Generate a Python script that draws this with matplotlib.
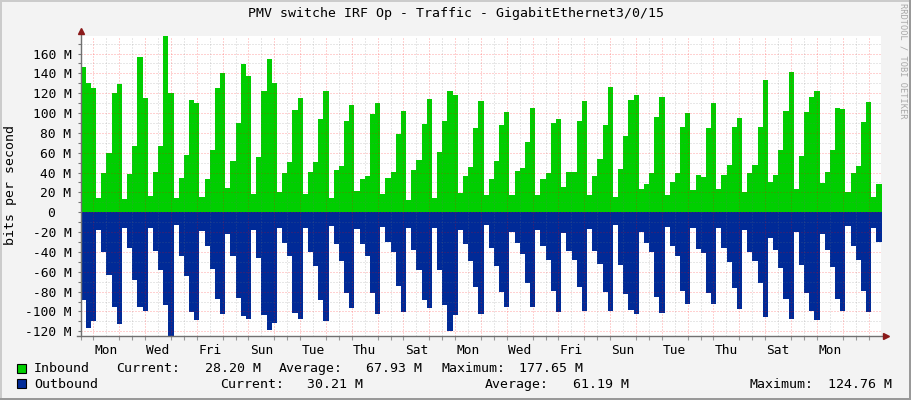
import numpy as np
import matplotlib
matplotlib.use("Agg")
import matplotlib.pyplot as plt
from matplotlib.patches import Rectangle
from matplotlib.transforms import ScaledTranslation

# traffic in Mbit/s, one value per ~4.8h step
inbound = [146, 130, 125,
           14, 40, 60, 120, 129,
           13, 39, 67, 156, 115,
           16, 41, 67, 177.65, 120,
           14, 35, 58, 113, 110,
           15, 34, 63, 125, 140,
           24, 52, 90, 149, 137,
           18, 56, 122, 154, 130,
           20, 40, 51, 103, 115,
           18, 41, 51, 94, 122,
           14, 43, 47, 92, 108,
           21, 34, 37, 99, 110,
           18, 35, 41, 79, 102,
           12, 43, 53, 89, 114,
           14, 61, 92, 122, 118,
           19, 37, 46, 85, 112,
           17, 34, 52, 88, 101,
           17, 42, 45, 71, 105,
           17, 33, 40, 90, 94,
           25, 41, 41, 92, 112,
           17, 37, 54, 88, 126,
           15, 44, 77, 113, 118,
           23, 28, 40, 96, 116,
           17, 30, 40, 86, 100,
           22, 38, 36, 85, 110,
           23, 38, 48, 86, 95,
           20, 40, 48, 86, 133,
           30, 38, 63, 102, 141,
           23, 57, 101, 116, 122,
           29, 41, 63, 105, 104,
           20, 40, 47, 91, 111,
           15, 28.2]

outbound = [88, 117, 110,
            17.5, 40, 63, 96, 113,
            15.5, 36, 68, 96, 100,
            15.5, 39, 58, 94, 124.76,
            13, 44, 64, 101, 109,
            18.5, 34, 57, 87, 103,
            22, 44, 86, 105, 108,
            18, 46, 104, 119, 112,
            15.5, 31, 44, 102, 108,
            15.5, 40, 54, 88, 110,
            13.4, 32, 49, 81, 97,
            16.5, 32, 44, 81, 103,
            14.5, 30, 40, 74, 101,
            15.5, 38, 58, 88, 97,
            15.5, 58, 94, 120, 104,
            17.5, 32, 49, 75, 103,
            12.4, 36, 54, 80, 96,
            19.5, 31, 42, 71, 96,
            17.5, 34, 48, 79, 101,
            20.5, 39, 48, 75, 100,
            16.5, 39, 52, 80, 100,
            12.4, 53, 82, 99, 103,
            20, 31, 40, 85, 102,
            14.5, 34, 44, 79, 92,
            15.5, 37, 41, 81, 93,
            15.5, 36, 50, 76, 98,
            17.5, 40, 49, 71, 106,
            25.5, 38, 56, 87, 108,
            20, 53, 81, 100, 109,
            21.5, 38, 55, 87, 100,
            13.4, 34, 48, 79, 101,
            15.5, 30.21]

day_labels = ["Mon", "Wed", "Fri", "Sun", "Tue", "Thu", "Sat"]
title = "PMV switche IRF Op - Traffic - GigabitEthernet3/0/15"
legend_rows = [
    ("Inbound", "#00CF00", [("Inbound", 34), ("Current:", 116), ("28.20 M", 205), ("Average:", 279),
                            ("67.93 M", 366), ("Maximum:", 441), ("177.65 M", 519)]),
    ("Outbound", "#002A97", [("Outbound", 34), ("Current:", 220), ("30.21 M", 307), ("Average:", 485),
                             ("61.19 M", 573), ("Maximum:", 750), ("124.76 M", 828)]),
]

mono = "DejaVu Sans Mono"
plt.rcParams["font.family"] = mono

W, H = 911, 400
fig = plt.figure(figsize=(W / 100, H / 100), dpi=100, facecolor="#F3F3F3")
ax = fig.add_axes([80.5 / W, 64 / H, 800.5 / W, 300 / H])
ax.set_facecolor("white")

# time in hours from first Monday 00:00
step = 4.8
t0 = -11.9
edges = t0 + step * np.arange(len(inbound) + 1)
inb = np.array(inbound, dtype=float)
outb = np.array(outbound, dtype=float)

ax.fill_between(edges, np.append(inb, inb[-1]), 0, step="post", color="#00CF00", lw=0, zorder=2)
ax.fill_between(edges, -np.append(outb, outb[-1]), 0, step="post", color="#002A97", lw=0, zorder=2)

ax.set_xlim(-11.92, 731.6)
ax.set_ylim(-124.76, 177.65)

# grid, rrdtool style dotted
dots = (0, (1, 2))
red = (1, 0, 0, 0.36)
grey = (0.45, 0.45, 0.45, 0.33)
for y in np.arange(-120, 180, 10):
    c = red if y % 20 == 0 else grey
    ax.axhline(y, color=c, lw=0.72, ls=dots, zorder=3)
for x in np.arange(-12, 732, 12):
    c = red if x % 24 == 0 else grey
    ax.axvline(x, color=c, lw=0.72, ls=dots, zorder=3)

for s in ax.spines.values():
    s.set_visible(False)

# y ticks
yt = np.arange(-120, 161, 20)
ax.set_yticks(yt)
ax.set_yticklabels([f"{v} M" if v != 0 else "0" for v in yt])
ax.set_yticks(np.arange(-120, 171, 10), minor=True)
ax.tick_params(axis="y", which="both", length=2, width=0.8, color="#777777", pad=4.5, labelsize=9.3)
zero_lab = ax.get_yticklabels()[list(yt).index(0)]
zero_lab.set_transform(zero_lab.get_transform() + ScaledTranslation(-16.6 / 100, 0, fig.dpi_scale_trans))

# x ticks: labels at noon every second day, small ticks every 12h
xt = 12 + 48 * np.arange(15)
ax.set_xticks(xt)
ax.set_xticklabels([day_labels[i % 7] for i in range(len(xt))])
ax.set_xticks(np.arange(-12, 732, 12), minor=True)
ax.tick_params(axis="x", which="major", length=0, pad=6, labelsize=9.3)
ax.tick_params(axis="x", which="minor", length=3, width=0.8, color="#999999")

# axis lines with arrows
ax.plot([0, 0], [0, 1.015], transform=ax.transAxes, color="#707070", lw=1, clip_on=False, zorder=4)
ax.plot([-0.004, 1.004], [0, 0], transform=ax.transAxes, color="#707070", lw=1, clip_on=False, zorder=4)
ax.plot([0], [1.017], marker="^", ms=5, color="#8B1A1A", transform=ax.transAxes, clip_on=False, zorder=5)
ax.plot([1.006], [0], marker=">", ms=5, color="#8B1A1A", transform=ax.transAxes, clip_on=False, zorder=5)

fig.text(0.5, 1 - 14 / H, title, ha="center", va="center", fontsize=9.5)
fig.text(11 / W, 1 - 185 / H, "bits per second", rotation=90, ha="center", va="center", fontsize=9.5)
fig.text(902.5 / W, 1 - 61 / H, "RRDTOOL / TOBI OETIKER", rotation=270, ha="center", va="center",
         fontsize=6.2, color="#A8A8A8")

# legend
for i, (name, col, toks) in enumerate(legend_rows):
    base = 372.3 + 15.4 * i
    fig.patches.append(Rectangle((17 / W, 1 - (base + 0.5) / H), 9 / W, 9 / H, transform=fig.transFigure,
                                 facecolor=col, edgecolor="black", lw=0.8))
    for txt, x in toks:
        fig.text(x / W, 1 - base / H, txt, ha="left", va="baseline", fontsize=9.5)

# frame shading
fig.patches.append(Rectangle((0, 0), 2 / W, 1, transform=fig.transFigure, color="#CBCBCB", lw=0))
fig.patches.append(Rectangle((0, 1 - 2 / H), 1, 2 / H, transform=fig.transFigure, color="#CBCBCB", lw=0))
fig.patches.append(Rectangle((1 - 2 / W, 0), 2 / W, 1, transform=fig.transFigure, color="#999999", lw=0))
fig.patches.append(Rectangle((0, 0), 1, 2 / H, transform=fig.transFigure, color="#999999", lw=0))

fig.savefig("out.png", dpi=100, facecolor=fig.get_facecolor())
